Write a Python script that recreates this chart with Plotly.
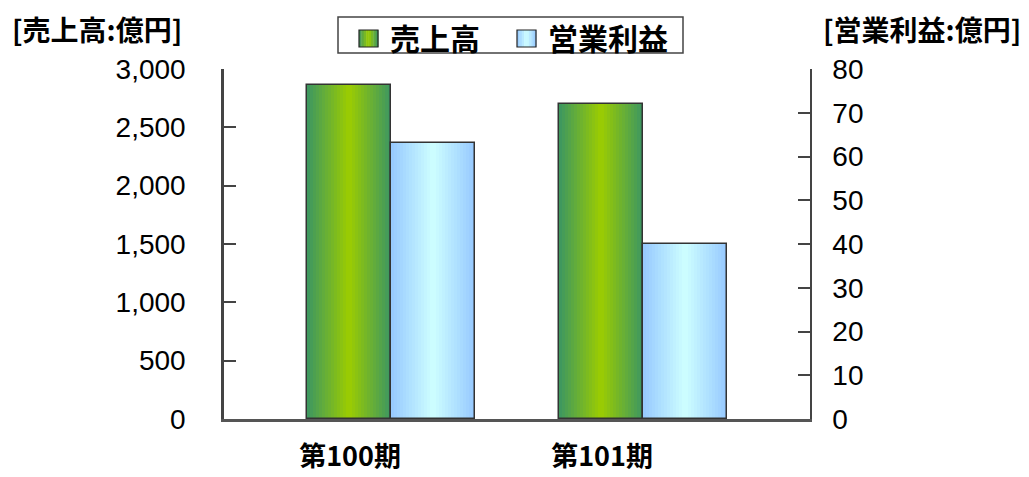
import plotly.graph_objects as go

# --- data ---------------------------------------------------------------
periods = ["第100期", "第101期"]
sales = [2860, 2700]            # 売上高 (億円), left axis
op_profit = [63, 40]            # 営業利益 (億円), right axis
series_names = ["売上高", "営業利益"]
left_title = "[売上高:億円]"
right_title = "[営業利益:億円]"

# --- styling ------------------------------------------------------------
JP = "Noto Sans CJK JP"
NUM = "Liberation Sans"
green_edge, green_mid = (60, 150, 98), (156, 205, 0)
blue_edge, blue_mid = (150, 200, 255), (206, 255, 255)
BAR_W = 1 / 3
N_STRIPES = 28

# plot-area geometry in pixels (used to place the boxed legend in paper units)
L, R, T, B = 224, 810, 69, 419
PW, PH = R - L, B - T


def px_x(px):
    return (px - L) / PW


def px_y(py):
    return (B - py) / PH


def mix(edge, mid, t):
    return "rgb(%d,%d,%d)" % tuple(round(m + (e - m) * t) for e, m in zip(edge, mid))


def gradient_bar(values, base_offset, edge, mid, yaxis):
    """Split each bar into thin vertical stripes to get a cylinder-like shading."""
    traces = []
    step = BAR_W / N_STRIPES
    for i in range(N_STRIPES):
        t = abs((i + 0.5) / N_STRIPES - 0.5) * 2
        w = step * (1.6 if i < N_STRIPES - 1 else 1.0)
        traces.append(go.Bar(
            x=periods, y=values, yaxis=yaxis,
            offset=base_offset + i * step, width=w,
            marker=dict(color=mix(edge, mid, t), line=dict(width=0)),
            showlegend=False, hoverinfo="skip",
        ))
    traces.append(go.Bar(
        x=periods, y=values, yaxis=yaxis, offset=base_offset, width=BAR_W,
        marker=dict(color="rgba(0,0,0,0)", line=dict(color="#333", width=1.5)),
        showlegend=False, hoverinfo="skip",
    ))
    return traces


fig = go.Figure()
for tr in gradient_bar(sales, -0.17, green_edge, green_mid, "y"):
    fig.add_trace(tr)
for tr in gradient_bar(op_profit, 0.163, blue_edge, blue_mid, "y2"):
    fig.add_trace(tr)

# --- boxed legend drawn with shapes + annotations -----------------------
shapes = [dict(type="rect", xref="paper", yref="paper",
               x0=px_x(338), x1=px_x(683), y0=px_y(53), y1=px_y(17),
               line=dict(color="#444", width=1.5), fillcolor="white", layer="above")]
annotations = []
legend_items = [
    (series_names[0], green_edge, green_mid, 359, 388),
    (series_names[1], blue_edge, blue_mid, 517, 546),
]
SW_W, SW_TOP, SW_BOT, N_SW = 19, 30, 47, 8
for name, edge, mid, sx, tx in legend_items:
    for j in range(N_SW):
        t = abs((j + 0.5) / N_SW - 0.5) * 2
        shapes.append(dict(
            type="rect", xref="paper", yref="paper", layer="above",
            x0=px_x(sx + j * SW_W / N_SW), x1=px_x(sx + (j + 1) * SW_W / N_SW + 0.4),
            y0=px_y(SW_BOT), y1=px_y(SW_TOP),
            fillcolor=mix(edge, mid, t), line=dict(width=0)))
    shapes.append(dict(type="rect", xref="paper", yref="paper", layer="above",
                       x0=px_x(sx), x1=px_x(sx + SW_W), y0=px_y(SW_BOT), y1=px_y(SW_TOP),
                       line=dict(color="#222", width=1.2)))
    annotations.append(dict(
        text=name, xref="paper", yref="paper", x=px_x(tx), y=px_y(37),
        xanchor="left", yanchor="middle", showarrow=False,
        font=dict(family=JP, size=30, weight="bold", color="black")))

annotations += [
    dict(text=left_title, xref="paper", yref="paper", x=px_x(97), y=px_y(29),
         xanchor="center", yanchor="middle", showarrow=False,
         font=dict(family=JP, size=28, weight="bold", color="black")),
    dict(text=right_title, xref="paper", yref="paper", x=px_x(922), y=px_y(29),
         xanchor="center", yanchor="middle", showarrow=False,
         font=dict(family=JP, size=28, weight="bold", color="black")),
]

fig.update_layout(
    width=1029, height=477,
    margin=dict(l=L, r=1029 - R, t=T, b=477 - B),
    paper_bgcolor="white", plot_bgcolor="white",
    barmode="overlay", bargap=0,
    font=dict(family=NUM, size=28, color="black"),
    showlegend=False,
    xaxis=dict(
        type="category", range=[-0.5, 1.825], automargin=False,
        showline=True, linecolor="#555", linewidth=2.5,
        ticks="", showgrid=False, zeroline=False,
        tickfont=dict(family=JP, size=27, weight="bold"),
        ticklabelstandoff=12,
    ),
    yaxis=dict(
        range=[0, 3000], dtick=500, tickformat=",", automargin=False,
        showline=True, linecolor="#444", linewidth=2.5,
        ticks="inside", ticklen=12, tickwidth=2, tickcolor="#444",
        showgrid=False, zeroline=False, ticklabelstandoff=30,
    ),
    yaxis2=dict(
        range=[0, 80], dtick=10, overlaying="y", side="right", automargin=False,
        showline=True, linecolor="#444", linewidth=1.5,
        ticks="inside", ticklen=12, tickwidth=1.5, tickcolor="#444",
        showgrid=False, zeroline=False, ticklabelstandoff=15,
    ),
    shapes=shapes,
    annotations=annotations,
)

fig.write_html("out.html")
